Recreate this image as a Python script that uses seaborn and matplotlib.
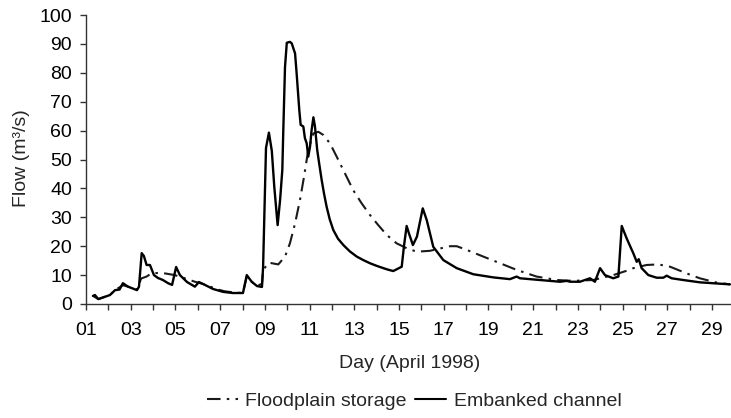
import numpy as np
import pandas as pd
import seaborn as sns
import matplotlib.pyplot as plt
from matplotlib.lines import Line2D

# ---- data ----
emb_day = [1.31, 1.40, 1.55, 2.07, 2.30, 2.50, 2.65, 2.88, 3.28, 3.37, 3.49, 3.59, 3.71, 3.86,
           4.04, 4.22, 4.44, 4.67, 4.85, 5.03, 5.20, 5.52, 5.87, 6.05, 6.32, 6.68, 7.13, 7.57,
           8.02, 8.19, 8.41, 8.65, 8.87, 8.92, 9.05, 9.18, 9.31, 9.42, 9.57, 9.68, 9.78, 9.82,
           9.90, 9.98, 10.12, 10.20, 10.35, 10.42, 10.54, 10.60, 10.72, 10.79, 10.87, 10.94,
           11.02, 11.09, 11.17, 11.24, 11.34, 11.44, 11.54, 11.65, 11.76, 11.90, 12.06, 12.27,
           12.51, 12.80, 13.11, 13.40, 13.70, 14.00, 14.30, 14.50,
           14.74, 15.12, 15.22, 15.34, 15.44, 15.62, 15.80, 16.06, 16.24, 16.53, 16.98, 17.58,
           18.32, 19.22, 19.96, 20.26, 20.41, 21.30, 22.20, 22.50, 22.65, 23.09, 23.54, 23.76,
           23.99, 24.21, 24.58, 24.81, 24.96, 25.18, 25.48, 25.63, 25.72, 25.85, 26.15, 26.52,
           26.82, 26.97, 27.19, 27.71, 28.45, 29.21, 29.80]
emb_flow = [2.8, 3.1, 1.7, 3.1, 4.8, 5.0, 7.2, 6.0, 4.8, 6.0, 17.6, 16.6, 13.5, 13.5,
            10.0, 9.0, 8.3, 7.2, 6.6, 12.8, 10.0, 7.6, 6.0, 7.6, 6.6, 5.2, 4.2, 3.8,
            3.8, 10.0, 7.7, 6.2, 5.9, 12.8, 54.0, 59.3, 53.0, 40.6, 27.3, 36.0, 46.4, 59.0,
            82.0, 90.4, 90.7, 90.2, 86.7, 79.8, 67.0, 62.0, 61.4, 57.4, 55.6, 51.0,
            54.5, 60.2, 64.6, 61.4, 53.3, 48.0, 42.9, 38.0, 33.7, 29.3, 25.6, 22.6,
            20.4, 18.2, 16.4, 15.2, 14.1, 13.2, 12.4, 11.9,
            11.4, 12.9, 20.0, 27.0, 24.5, 20.4, 23.3, 33.1, 29.0, 19.8, 15.2, 12.4,
            10.3, 9.2, 8.6, 9.5, 8.9, 8.3, 7.7, 8.0, 7.7, 7.7, 8.9, 7.7,
            12.4, 10.0, 8.9, 9.5, 27.0, 22.7, 17.5, 14.6, 15.5, 12.4, 10.0, 9.1,
            9.1, 9.8, 8.9, 8.3, 7.5, 7.1, 6.8]

fp_day = [1.31, 1.55, 2.07, 2.30, 2.65, 2.88, 3.28, 3.45, 3.49, 3.71, 3.93, 4.37, 4.97,
          5.34, 5.87, 6.39, 6.80, 7.20, 7.60, 8.02, 8.19, 8.41, 8.65, 8.87, 8.92, 9.18,
          9.60, 9.90, 10.12, 10.35, 10.57, 10.75, 10.94, 11.17, 11.39, 11.61, 11.91, 12.21,
          12.58, 12.95, 13.33, 13.70, 14.07, 14.45, 14.89, 15.34, 15.79, 16.38, 17.28, 17.58,
          18.03, 18.77, 19.52, 20.26, 21.15, 22.05, 22.79, 23.68, 24.58, 25.18, 25.48, 26.07,
          26.60, 27.12, 27.86, 28.45, 29.21, 29.80]
fp_flow = [2.8, 1.7, 3.1, 4.8, 6.5, 6.0, 5.0, 8.5, 8.9, 9.5, 10.6, 10.8, 10.0,
           9.1, 7.7, 6.6, 5.2, 4.4, 4.0, 3.8, 9.5, 7.7, 6.3, 7.0, 11.8, 14.3,
           13.7, 16.4, 21.0, 27.9, 36.0, 44.0, 53.3, 59.0, 59.6, 58.5, 55.6, 51.0,
           45.2, 39.4, 34.8, 30.8, 27.3, 23.9, 21.0, 19.3, 18.1, 18.4, 20.0, 20.0,
           18.7, 16.4, 14.1, 11.8, 9.5, 8.3, 8.0, 8.3, 10.0, 11.5, 12.4, 13.5,
           13.7, 12.9, 10.6, 8.9, 7.4, 6.8]

tick_days = [1, 2, 3, 4, 5, 6, 7, 8, 9, 10, 11, 12, 13, 14, 15, 16, 17, 18, 19, 20,
             21, 22, 23, 24, 25, 26, 27, 28, 29]
tick_labels = ["01", "", "03", "", "05", "", "07", "", "09", "", "11", "", "13", "", "15",
               "", "17", "", "19", "", "21", "", "23", "", "25", "", "27", "", "29"]
ytick_vals = [0, 10, 20, 30, 40, 50, 60, 70, 80, 90, 100]

series_names = ["Floodplain storage", "Embanked channel"]

# ---- style ----
sns.set_theme(style="ticks")
plt.rcParams['font.family'] = ['Liberation Sans', 'DejaVu Sans']
FS = 14
plt.rcParams['font.size'] = FS

W, H = 731, 418
fig = plt.figure(figsize=(W / 100, H / 100), dpi=100)
ax = fig.add_axes([86 / W, 1 - 304 / H, (W - 86) / W, (304 - 15) / H])

df_fp = pd.DataFrame({"day": fp_day, "flow": fp_flow})
df_emb = pd.DataFrame({"day": emb_day, "flow": emb_flow})

fp_style = (0, (6.5, 3, 1.2, 3))
sns.lineplot(data=df_fp, x="day", y="flow", ax=ax, color="#1a1a1a", linewidth=1.5,
             linestyle=fp_style, sort=False, estimator=None)
sns.lineplot(data=df_emb, x="day", y="flow", ax=ax, color="black", linewidth=1.7,
             sort=False, estimator=None)

ax.set_xlim(1, 1 + (W - 86) / 22.36)
ax.set_ylim(0, 100)
ax.set_xticks(tick_days)
ax.set_xticklabels(tick_labels)
ax.set_yticks(ytick_vals)
ax.tick_params(axis='both', direction='out', length=4, width=1, color='#333333',
               labelsize=FS, labelcolor='black')
ax.tick_params(axis='x', pad=9)
ax.tick_params(axis='y', pad=6)
for s in ['top', 'right']:
    ax.spines[s].set_visible(False)
for s in ['left', 'bottom']:
    ax.spines[s].set_color('#333333')
    ax.spines[s].set_linewidth(1)

ax.set_xlabel("Day (April 1998)", fontsize=FS, va='center')
ax.set_ylabel("Flow (m³/s)", fontsize=FS, va='center')
ax.xaxis.set_label_coords((410 - 86) / (W - 86), (304 - 363) / (304 - 15))
ax.yaxis.set_label_coords((22 - 86) / (W - 86), (304 - 158) / (304 - 15))

handles = [Line2D([], [], color="#1a1a1a", lw=1.5, linestyle=fp_style),
           Line2D([], [], color="black", lw=1.5)]
ax.legend(handles, series_names, loc='center', bbox_to_anchor=(414 / W, 1 - 401 / H),
          bbox_transform=fig.transFigure, ncol=2, frameon=False, fontsize=FS,
          handlelength=1.6, handletextpad=0.4, columnspacing=0.4,
          borderpad=0, borderaxespad=0)

fig.savefig("out.png", dpi=100)
